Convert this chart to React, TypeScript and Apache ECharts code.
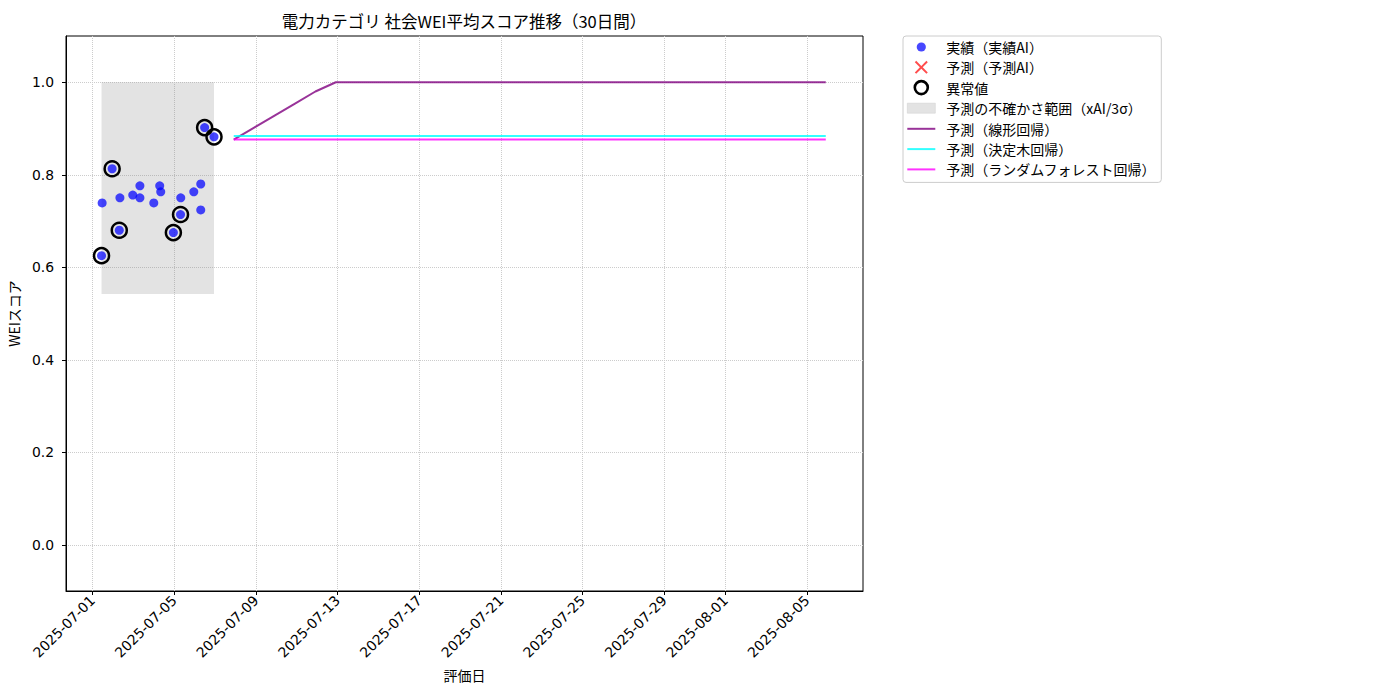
import React, { useEffect, useRef } from "react";
import * as echarts from "echarts";

const FONT = '"Noto Sans CJK JP", "DejaVu Sans", sans-serif';
const TICK_FONT = '"DejaVu Sans", "Noto Sans CJK JP", sans-serif';
const BASE = Date.parse("2025-07-01T00:00Z");

// 実績（実績AI）
const actualDates = [
  "2025-07-01T10:34", "2025-07-01T11:17", "2025-07-01T23:02", "2025-07-02T07:26",
  "2025-07-02T08:10", "2025-07-02T23:17", "2025-07-03T07:41", "2025-07-03T07:41",
  "2025-07-04T00:00", "2025-07-04T06:58", "2025-07-04T08:10", "2025-07-04T23:02",
  "2025-07-05T07:26", "2025-07-05T07:41", "2025-07-05T23:02", "2025-07-06T07:12",
  "2025-07-06T07:12", "2025-07-06T11:46", "2025-07-06T22:48",
];
const actualScores = [
  0.625, 0.739, 0.813, 0.680,
  0.750, 0.756, 0.776, 0.750,
  0.739, 0.776, 0.763, 0.675,
  0.714, 0.750, 0.763, 0.780,
  0.724, 0.902, 0.882,
];
// 異常値
const anomalyDates = [
  "2025-07-01T10:34", "2025-07-01T23:02", "2025-07-02T07:26", "2025-07-04T23:02",
  "2025-07-05T07:26", "2025-07-06T11:46", "2025-07-06T22:48",
];
const anomalyScores = [0.625, 0.813, 0.680, 0.675, 0.714, 0.902, 0.882];

// 予測の不確かさ範囲
const bandStart = "2025-07-01T10:34";
const bandEnd = "2025-07-06T22:48";
const bandLower = 0.542;
const bandUpper = 1.0;

// 予測
const forecastDates = [
  "2025-07-07T22:00", "2025-07-08T22:00", "2025-07-09T22:00", "2025-07-10T22:00",
  "2025-07-11T22:00", "2025-07-12T22:00", "2025-07-13T22:00", "2025-07-14T22:00",
  "2025-07-15T22:00", "2025-07-16T22:00", "2025-07-17T22:00", "2025-07-18T22:00",
  "2025-07-19T22:00", "2025-07-20T22:00", "2025-07-21T22:00", "2025-07-22T22:00",
  "2025-07-23T22:00", "2025-07-24T22:00", "2025-07-25T22:00", "2025-07-26T22:00",
  "2025-07-27T22:00", "2025-07-28T22:00", "2025-07-29T22:00", "2025-07-30T22:00",
  "2025-07-31T22:00", "2025-08-01T22:00", "2025-08-02T22:00", "2025-08-03T22:00",
  "2025-08-04T22:00", "2025-08-05T22:00",
];
const linearForecast = [
  0.876, 0.902, 0.928, 0.954, 0.980, 1.0, 1.0, 1.0, 1.0, 1.0,
  1.0, 1.0, 1.0, 1.0, 1.0, 1.0, 1.0, 1.0, 1.0, 1.0,
  1.0, 1.0, 1.0, 1.0, 1.0, 1.0, 1.0, 1.0, 1.0, 1.0,
];
const treeForecast = [
  0.8836, 0.8836, 0.8836, 0.8836, 0.8836, 0.8836, 0.8836, 0.8836, 0.8836, 0.8836,
  0.8836, 0.8836, 0.8836, 0.8836, 0.8836, 0.8836, 0.8836, 0.8836, 0.8836, 0.8836,
  0.8836, 0.8836, 0.8836, 0.8836, 0.8836, 0.8836, 0.8836, 0.8836, 0.8836, 0.8836,
];
const forestForecast = [
  0.8764, 0.8764, 0.8764, 0.8764, 0.8764, 0.8764, 0.8764, 0.8764, 0.8764, 0.8764,
  0.8764, 0.8764, 0.8764, 0.8764, 0.8764, 0.8764, 0.8764, 0.8764, 0.8764, 0.8764,
  0.8764, 0.8764, 0.8764, 0.8764, 0.8764, 0.8764, 0.8764, 0.8764, 0.8764, 0.8764,
];

const xTickLabels = [
  "2025-07-01", "2025-07-05", "2025-07-09", "2025-07-13", "2025-07-17",
  "2025-07-21", "2025-07-25", "2025-07-29", "2025-08-01", "2025-08-05",
];
const yTickValues = [0.0, 0.2, 0.4, 0.6, 0.8, 1.0];

const toDay = (s: string) => (Date.parse(s.length === 10 ? s + "T00:00Z" : s + "Z") - BASE) / 86400000;
const dayToLabel = (d: number) => new Date(BASE + Math.round(d) * 86400000).toISOString().slice(0, 10);

const pair = (ds: string[], vs: number[]) => ds.map((d, i) => [toDay(d), vs[i]]);

// legend icons, all drawn in a 28x16 box
const BOX = "M0 0 M28 16 ";
const ICON_DOT = "path://" + BOX + "M18.6 8 A4.6 4.6 0 1 1 9.4 8 A4.6 4.6 0 1 1 18.6 8 Z";
const ICON_X =
  "path://" + BOX +
  "M7.5 2.91 L8.91 1.5 L14 6.59 L19.09 1.5 L20.5 2.91 L15.41 8 L20.5 13.09 L19.09 14.5 L14 9.41 L8.91 14.5 L7.5 13.09 L12.59 8 Z";
const ICON_RING =
  "path://" + BOX +
  "M21.8 8 A7.8 7.8 0 1 1 6.2 8 A7.8 7.8 0 1 1 21.8 8 Z " +
  "M19.2 8 A5.2 5.2 0 1 0 8.8 8 A5.2 5.2 0 1 0 19.2 8 Z";
const ICON_PATCH = "path://" + BOX + "M0 3 L28 3 L28 13 L0 13 Z";
const ICON_LINE = "path://" + BOX + "M0 7 L28 7 L28 9 L0 9 Z";

export default function App() {
  const ref = useRef<HTMLDivElement>(null);
  useEffect(() => {
    document.body.style.margin = "0";
    if (!ref.current) return;
    const chart = echarts.init(ref.current, null, { renderer: "svg" });
    const xTicks = xTickLabels.map(toDay);
    const gridColor = "#cccccc";
    const option: any = {
      animation: false,
      backgroundColor: "#ffffff",
      textStyle: { fontFamily: FONT },
      graphic: [
        {
          type: "text",
          x: 464,
          y: 21,
          style: {
            text: "電力カテゴリ 社会WEI平均スコア推移（30日間）",
            font: `16.5px ${FONT}`,
            fill: "#000",
            align: "center",
            verticalAlign: "middle",
            textAlign: "center",
            textVerticalAlign: "middle",
          },
        },
      ],
      grid: {
        left: 66,
        top: 36,
        right: 537,
        bottom: 109,
        show: true,
        borderColor: "#000",
        borderWidth: 1,
        backgroundColor: "transparent",
        containLabel: false,
        outerBoundsMode: "none",
      },
      legend: {
        orient: "vertical",
        left: 903,
        top: 36,
        padding: [3, 5, 5, 4],
        itemWidth: 28,
        itemHeight: 16,
        itemGap: 4.3,
        selectedMode: false,
        backgroundColor: "#fff",
        borderColor: "#cccccc",
        borderWidth: 1,
        borderRadius: 3,
        textStyle: { fontFamily: FONT, fontSize: 14, color: "#000", padding: [0, 0, 0, 6] },
        data: [
          { name: "実績（実績AI）", icon: ICON_DOT, itemStyle: { color: "rgba(0,0,255,0.72)", borderWidth: 0 } },
          { name: "予測（予測AI）", icon: ICON_X, itemStyle: { color: "rgba(255,0,0,0.7)", borderWidth: 0 } },
          { name: "異常値", icon: ICON_RING, itemStyle: { color: "#000", borderWidth: 0 } },
          {
            name: "予測の不確かさ範囲（xAI/3σ）",
            icon: ICON_PATCH,
            itemStyle: { color: "#e3e3e3", borderColor: "#d4d4d4", borderWidth: 0.6 },
          },
          { name: "予測（線形回帰）", icon: ICON_LINE, itemStyle: { color: "rgba(128,0,128,0.8)", borderWidth: 0 } },
          { name: "予測（決定木回帰）", icon: ICON_LINE, itemStyle: { color: "rgba(0,255,255,0.8)", borderWidth: 0 } },
          {
            name: "予測（ランダムフォレスト回帰）",
            icon: ICON_LINE,
            itemStyle: { color: "rgba(255,0,255,0.8)", borderWidth: 0 },
          },
        ],
      },
      xAxis: {
        type: "value",
        min: -1.3,
        max: 37.74,
        name: "評価日",
        nameLocation: "middle",
        nameGap: 77,
        nameTextStyle: { fontFamily: FONT, fontSize: 14, color: "#000" },
        axisLine: { show: true, onZero: false, lineStyle: { color: "#000", width: 1 } },
        axisTick: { show: true, length: 4, lineStyle: { color: "#000" }, customValues: xTicks },
        axisLabel: {
          customValues: xTicks,
          rotate: 45,
          margin: 7,
          fontFamily: TICK_FONT,
          fontSize: 13.9,
          color: "#000",
          formatter: (v: number) => dayToLabel(v),
        },
        splitLine: { show: true, lineStyle: { color: gridColor, type: "dotted", width: 1 } },
      },
      yAxis: {
        type: "value",
        min: -0.1,
        max: 1.1,
        name: "WEIスコア",
        nameLocation: "middle",
        nameGap: 41,
        nameTextStyle: { fontFamily: FONT, fontSize: 14, color: "#000" },
        axisLine: { show: true, onZero: false, lineStyle: { color: "#000", width: 1 } },
        axisTick: { show: true, length: 4, lineStyle: { color: "#000" }, customValues: yTickValues },
        axisLabel: {
          customValues: yTickValues,
          margin: 12,
          fontFamily: TICK_FONT,
          fontSize: 13.9,
          color: "#000",
          formatter: (v: number) => v.toFixed(1),
        },
        splitLine: { show: true, lineStyle: { color: gridColor, type: "dotted", width: 1 } },
      },
      series: [
        {
          name: "予測の不確かさ範囲（xAI/3σ）",
          type: "custom",
          z: 1,
          encode: { x: [0, 1], y: [2, 3] },
          data: [[toDay(bandStart), toDay(bandEnd), bandLower, bandUpper]],
          itemStyle: { color: "#e3e3e3" },
          renderItem: (params: any, api: any) => {
            const p0 = api.coord([api.value(0), api.value(3)]);
            const p1 = api.coord([api.value(1), api.value(2)]);
            return {
              type: "rect",
              shape: { x: p0[0], y: p0[1], width: p1[0] - p0[0], height: p1[1] - p0[1] },
              style: { fill: "rgba(128,128,128,0.22)" },
            };
          },
        },
        {
          name: "実績（実績AI）",
          type: "scatter",
          z: 3,
          symbol: "circle",
          symbolSize: 9,
          itemStyle: { color: "rgba(0,0,255,0.72)", opacity: 1 },
          data: pair(actualDates, actualScores),
        },
        {
          name: "予測（予測AI）",
          type: "scatter",
          z: 3,
          symbolSize: 12,
          itemStyle: { color: "rgba(255,0,0,0.7)", opacity: 1 },
          data: [],
        },
        {
          name: "異常値",
          type: "scatter",
          z: 4,
          symbol: "circle",
          symbolSize: 15,
          itemStyle: { color: "transparent", borderColor: "#000", borderWidth: 2.5, opacity: 1 },
          data: pair(anomalyDates, anomalyScores),
        },
        {
          name: "予測（線形回帰）",
          type: "line",
          z: 5,
          symbol: "none",
          lineStyle: { color: "rgba(128,0,128,0.8)", width: 2 },
          itemStyle: { color: "rgba(128,0,128,0.8)" },
          data: pair(forecastDates, linearForecast),
        },
        {
          name: "予測（決定木回帰）",
          type: "line",
          z: 5,
          symbol: "none",
          lineStyle: { color: "rgba(0,255,255,0.8)", width: 2 },
          itemStyle: { color: "rgba(0,255,255,0.8)" },
          data: pair(forecastDates, treeForecast),
        },
        {
          name: "予測（ランダムフォレスト回帰）",
          type: "line",
          z: 5,
          symbol: "none",
          lineStyle: { color: "rgba(255,0,255,0.8)", width: 2 },
          itemStyle: { color: "rgba(255,0,255,0.8)" },
          data: pair(forecastDates, forestForecast),
        },
      ],
    };
    chart.setOption(option);
    return () => chart.dispose();
  }, []);
  return <div ref={ref} style={{ width: 1400, height: 700 }} />;
}
